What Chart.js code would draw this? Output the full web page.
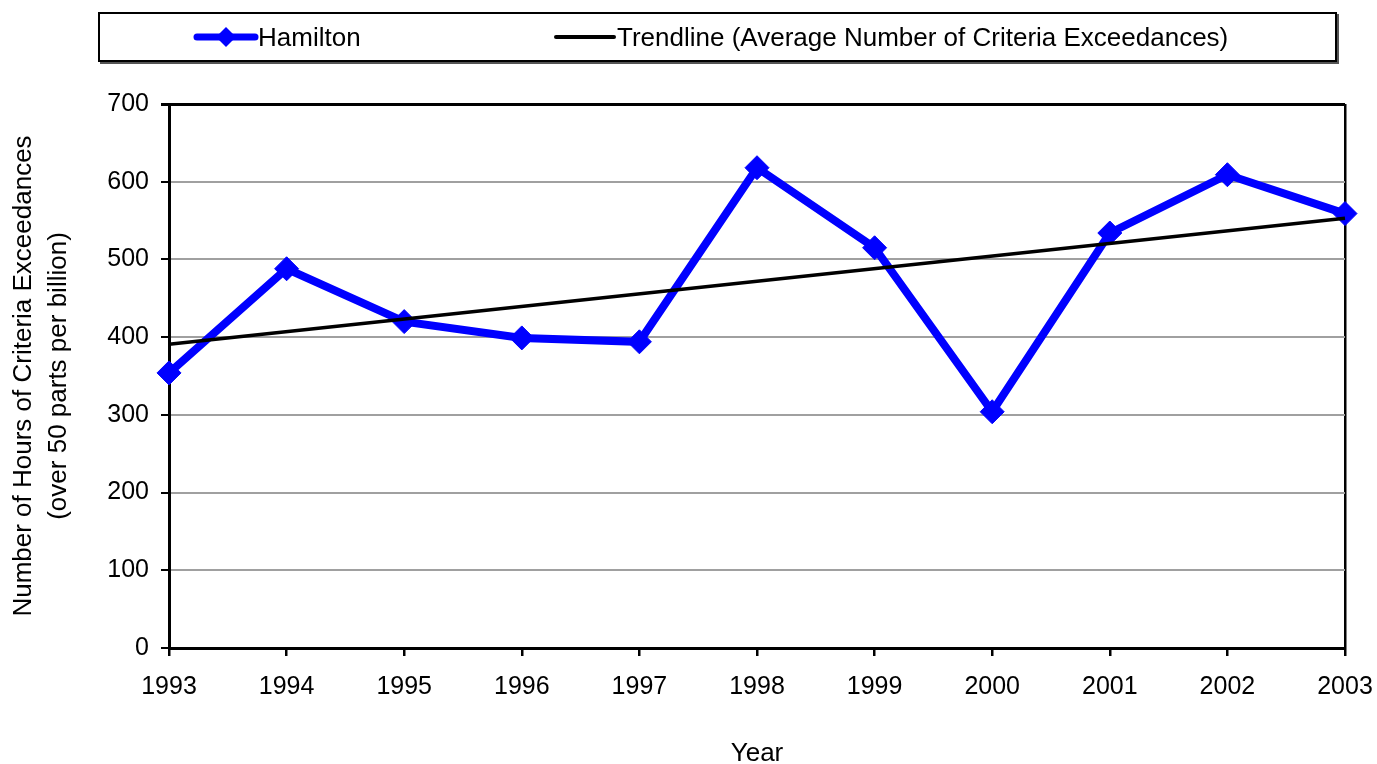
<!DOCTYPE html>
<html><head><meta charset="utf-8">
<script src="https://cdn.jsdelivr.net/npm/chart.js@4.4.0/dist/chart.umd.min.js"></script>
<style>
html,body{margin:0;padding:0;background:#fff;}
#wrap{position:relative;width:1377px;height:764px;}
#legend{position:absolute;left:98px;top:12px;width:1235px;height:46px;border:2px solid #000;box-shadow:2px 2px 0 #555;font-family:"Liberation Sans",Arial,sans-serif;font-size:26px;color:#000;}
.item{position:absolute;top:0;height:46px;line-height:46px;white-space:nowrap;}
.sw{position:absolute;top:0;height:46px;}
canvas{position:absolute;left:0;top:0;}
</style></head>
<body><div id="wrap">
<canvas id="c" width="1377" height="764"></canvas>
<div id="legend">
  <canvas id="lg1" class="sw" width="66" height="46" style="left:93px"></canvas>
  <span class="item" style="left:158px">Hamilton</span>
  <canvas id="lg2" class="sw" width="66" height="46" style="left:452px"></canvas>
  <span class="item" style="left:517px">Trendline (Average Number of Criteria Exceedances)</span>
</div>
</div>
<script>
const years = ['1993','1994','1995','1996','1997','1998','1999','2000','2001','2002','2003'];
const hamilton = [354, 488, 420, 399, 394, 618, 515, 304, 534, 609, 559];
const trendline = [391, null, null, null, null, null, null, null, null, null, 553];
const yTicks = [0, 100, 200, 300, 400, 500, 600, 700];
const seriesNames = ['Hamilton', 'Trendline (Average Number of Criteria Exceedances)'];
const yTitle = ['Number of Hours of Criteria Exceedances', '(over 50 parts per billion)'];
const xTitle = 'Year';

// legend swatches
(function(){
  let g = document.getElementById('lg1').getContext('2d');
  g.strokeStyle = '#0000FF'; g.lineWidth = 7; g.lineCap='round';
  g.beginPath(); g.moveTo(4,23); g.lineTo(62,23); g.stroke();
  g.fillStyle = '#0000FF'; g.beginPath(); g.moveTo(33,13); g.lineTo(43,23); g.lineTo(33,33); g.lineTo(23,23); g.closePath(); g.fill();
  let h = document.getElementById('lg2').getContext('2d');
  h.strokeStyle = '#000'; h.lineWidth = 4; h.lineCap='round';
  h.beginPath(); h.moveTo(4,23); h.lineTo(62,23); h.stroke();
})();

const FONT = '"Liberation Sans", Arial, sans-serif';
Chart.defaults.font.family = FONT;
Chart.defaults.color = '#000';

new Chart(document.getElementById('c'), {
  type: 'line',
  data: {
    labels: years,
    datasets: [
      { label: seriesNames[0], data: hamilton, borderColor: '#0000FF', backgroundColor: '#0000FF',
        borderWidth: 8, pointStyle: 'rectRot', pointRadius: 12, pointHoverRadius: 12, pointBorderWidth: 1, tension: 0, order: 2 },
      { label: seriesNames[1], data: trendline, borderColor: '#000', backgroundColor: '#000',
        borderWidth: 3.5, pointRadius: 0, spanGaps: true, tension: 0, order: 1 }
    ]
  },
  options: {
    responsive: false, animation: false,
    layout: { padding: { left: 0, top: 104, right: 32, bottom: 0 } },
    plugins: { legend: { display: false }, tooltip: { enabled: false } },
    scales: {
      x: {
        offset: false,
        grid: { color: (c) => c.index === years.length - 1 ? '#000' : 'rgba(0,0,0,0)', lineWidth: 2.5, tickColor: '#000', tickLength: 8, drawOnChartArea: true },
        border: { color: '#000', width: 3 },
        ticks: { font: { size: 25 }, padding: 16, maxRotation: 0, autoSkip: false },
        title: { display: true, text: xTitle, font: { size: 26, lineHeight: 0.75 }, padding: { top: 31, bottom: 0 } },
        afterFit: (s) => { s.height = 116; s.paddingRight = 0; s.paddingLeft = 0; }
      },
      y: {
        min: 0, max: 700,
        afterBuildTicks: (s) => { s.ticks = yTicks.map(v => ({ value: v })); },
        grid: { color: (c) => c.tick && c.tick.value === 700 ? '#000' : '#a0a0a0', lineWidth: (c) => c.tick && c.tick.value === 700 ? 3 : 2, tickColor: '#000', tickLength: 8 },
        border: { color: '#000', width: 3 },
        ticks: { font: { size: 25 }, padding: 12 },
        title: { display: true, text: yTitle, font: { size: 26, lineHeight: 1.35 }, padding: { top: 6, bottom: 0 } },
        afterFit: (s) => { s.width = 169; s.paddingTop = 0; s.paddingBottom = 0; }
      }
    }
  }
});
</script>
</body></html>
